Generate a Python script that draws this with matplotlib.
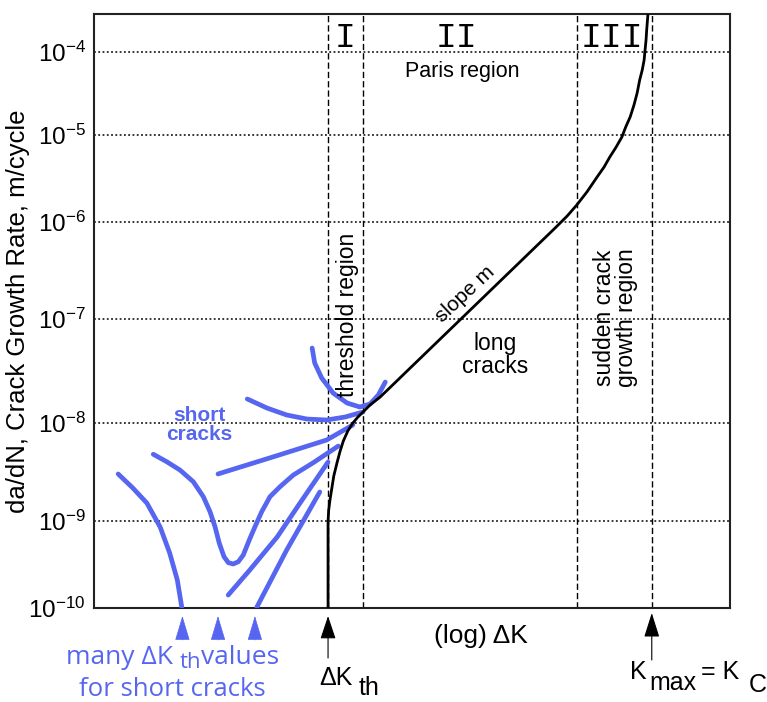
import numpy as np
import matplotlib
matplotlib.use("Agg")
import matplotlib.pyplot as plt

plt.rcParams['font.family'] = ['Liberation Sans', 'DejaVu Sans']
plt.rcParams['mathtext.fontset'] = 'custom'
plt.rcParams['mathtext.rm'] = 'Liberation Sans'
plt.rcParams['mathtext.it'] = 'Liberation Sans'

# ---------------- data (x: log dK in arbitrary units 0..100, y: log10 da/dN) -------------
decades = [-10, -9, -8, -7, -6, -5, -4]
tick_labels = [r'$10^{-10}$', r'$10^{-9}$', r'$10^{-8}$', r'$10^{-7}$',
               r'$10^{-6}$', r'$10^{-5}$', r'$10^{-4}$']

long_x = [36.8, 36.8, 36.8, 36.9, 37.1, 37.4, 37.7, 38.2, 38.7, 39.2, 39.9, 40.7, 41.5,
          42.3, 43.4, 45.0, 72.5, 74.4, 75.9, 77.5, 79.1, 80.2, 81.1, 82.1, 83.0, 83.6,
          84.3, 84.9, 85.4, 85.8, 86.2, 86.5, 86.6, 86.8, 86.9, 87.1]
long_y = [-10.0, -9.218, -9.01, -8.888, -8.786, -8.663, -8.541, -8.408, -8.286, -8.184,
          -8.082, -8.0, -7.942, -7.894, -7.827, -7.75, -6.062, -5.931, -5.805, -5.655,
          -5.483, -5.368, -5.253, -5.138, -5.023, -4.904, -4.783, -4.639, -4.494, -4.337,
          -4.217, -4.096, -4.012, -3.855, -3.735, -3.54]

short_a_x = [3.8, 6.1, 8.3, 10.4, 11.9, 13.1, 13.8]
short_a_y = [-8.52, -8.663, -8.816, -9.069, -9.368, -9.678, -9.99]

short_b_x = [9.32, 11.43, 13.52, 15.61, 17.19, 18.24, 19.03, 19.70, 20.44, 21.12, 21.90,
             22.69, 23.47, 24.42, 25.31, 26.37, 27.67, 29.25, 31.34, 34.48, 38.41]
short_b_y = [-8.319, -8.395, -8.48, -8.599, -8.752, -8.905, -9.066, -9.256, -9.41, -9.479,
             -9.494, -9.468, -9.391, -9.218, -9.066, -8.905, -8.752, -8.65, -8.531,
             -8.405, -8.235]

short_c_x = [21.1, 24.5, 28.8, 32.4, 36.8]
short_c_y = [-9.851, -9.563, -9.184, -8.816, -8.398]

short_d_x = [25.6, 30.3, 35.5]
short_d_y = [-9.99, -9.333, -8.704]

short_e_x = [19.5, 28.1, 36.6, 40.7]
short_e_y = [-8.52, -8.347, -8.173, -8.02]

short_f_x = [24.1, 27.2, 30.3, 33.5, 36.6, 39.5, 42.3]
short_f_y = [-7.769, -7.856, -7.923, -7.962, -7.971, -7.942, -7.894]

short_g_x = [34.3, 34.7, 35.8, 37.6, 39.8, 41.8, 43.4, 44.7, 45.8]
short_g_y = [-7.279, -7.423, -7.567, -7.712, -7.808, -7.846, -7.817, -7.731, -7.606]

region_bounds = [36.8, 42.3, 75.9, 87.7]     # dashed vertical lines
dk_th_x = 36.8
kc_x = 87.7
short_th_x = [13.9, 19.5, 25.3]

# ---------------- y scale (hand-drawn decade spacing) ----------------
L_knots = np.array([-12, -11, -10, -9, -8, -7, -6, -5, -4, -3, -2], float)
P_knots = np.array([-174, -87, 0, 87, 185, 289, 386, 473, 556, 639, 722], float)

def fwd(y):
    y = np.asarray(y, float)
    with np.errstate(divide='ignore', invalid='ignore'):
        ly = np.log10(np.where(y > 0, y, 1e-300))
    return np.interp(ly, L_knots, P_knots)

def inv(p):
    return 10 ** np.interp(np.asarray(p, float), P_knots, L_knots)

BLUE = '#5766f0'
W, H = 767, 702
fig = plt.figure(figsize=(W / 100, H / 100), dpi=100)
ax = fig.add_axes([94 / W, 1 - 608 / H, (730 - 94) / W, (608 - 14) / H])
ax.set_yscale('function', functions=(fwd, inv))
ax.set_xlim(0, 100)
ax.set_ylim(1e-10, 10 ** -3.542)

ax.set_yticks([10.0 ** d for d in decades])
ax.set_yticklabels(tick_labels)
ax.set_xticks([])
ax.minorticks_off()
ax.tick_params(axis='y', length=0, pad=6, labelsize=17.5)
for s in ax.spines.values():
    s.set_linewidth(1.5)
    s.set_color('#222222')

# grid
for d in decades[1:]:
    ax.axhline(10.0 ** d, color='black', lw=1.1, ls=(0, (1.2, 1.6)), zorder=1)
for xb in region_bounds:
    ax.axvline(xb, color='black', lw=1.0, ls=(0, (4.5, 2.2)), zorder=1)

def P(v):
    return 10.0 ** np.asarray(v)

kw = dict(color=BLUE, lw=3.4, solid_capstyle='round', solid_joinstyle='round', zorder=3)
for xs, ys in [(short_a_x, short_a_y), (short_b_x, short_b_y), (short_c_x, short_c_y),
               (short_d_x, short_d_y), (short_e_x, short_e_y), (short_f_x, short_f_y),
               (short_g_x, short_g_y)]:
    ax.plot(xs, P(ys), **kw)

ax.plot(long_x, P(long_y), color='black', lw=2.0, zorder=4, solid_joinstyle='round')

# region labels
ax.text(39.5, 10 ** -3.83, 'I', family='Liberation Mono', fontsize=25, ha='center', va='center')
ax.text(57.0, 10 ** -3.83, 'II', family='Liberation Mono', fontsize=25, ha='center', va='center')
ax.text(81.5, 10 ** -3.83, 'III', family='Liberation Mono', fontsize=25, ha='center', va='center')
ax.text(57.9, 10 ** -4.24, 'Paris region', fontsize=15.5, ha='center', va='center')
ax.text(39.9, 10 ** -6.96, 'threshold region', fontsize=16.5, rotation=90, ha='center', va='center')
ax.text(82.0, 10 ** -6.99, 'sudden crack\ngrowth region', fontsize=16.5, rotation=90,
        ha='center', va='center', linespacing=0.95)
ax.text(58.3, 10 ** -6.74, 'slope m', fontsize=15, rotation=43, ha='center', va='center',
        rotation_mode='anchor')
ax.text(63.0, 10 ** -7.35, 'long\ncracks', fontsize=16.5, ha='center', va='center', linespacing=1.0)
ax.text(16.6, 10 ** -8.02, 'short\ncracks', fontsize=15, fontweight='bold', color=BLUE,
        ha='center', va='center', linespacing=0.95)

ax.set_ylabel('da/dN, Crack Growth Rate, m/cycle', fontsize=18.5)
ax.yaxis.set_label_coords(-0.100, 0.5)

# arrows below the axis
def yfrac(py):
    return (608 - py) / 594.0

def arrow(x, ytop, ybot, color, head_len, head_w, lw):
    ax.annotate('', xy=(x, yfrac(ytop)), xycoords=('data', 'axes fraction'),
                xytext=(x, yfrac(ybot)), textcoords=('data', 'axes fraction'),
                annotation_clip=False,
                arrowprops=dict(arrowstyle=f'-|>,head_length={head_len},head_width={head_w}',
                                color=color, lw=lw, mutation_scale=20, shrinkA=0, shrinkB=0))

arrow(dk_th_x, 616, 658, 'black', 0.72, 0.24, 0.8)
arrow(kc_x, 613, 660, 'black', 0.76, 0.24, 0.8)
for xs in short_th_x:
    arrow(xs, 616, 640, BLUE, 0.8, 0.24, 0.5)

def ftext(px, py, s, **k):
    fig.text(px / W, 1 - py / H, s, **k)

ftext(481, 643, '(log) ΔK', fontsize=19, ha='center', va='baseline')
ftext(319, 685, 'ΔK', fontsize=18, ha='left', va='baseline')
ftext(359, 695, 'th', fontsize=18, ha='left', va='baseline')
ftext(630, 679, 'K', fontsize=18, ha='left', va='baseline')
ftext(649, 690, 'max', fontsize=18, ha='left', va='baseline')
ftext(701, 679, '= K', fontsize=18, ha='left', va='baseline')
ftext(749, 692, 'C', fontsize=18, ha='left', va='baseline')

bf = dict(family=['Open Sans', 'DejaVu Sans'], fontsize=19, color=BLUE, va='baseline')
ftext(66, 664, 'many ΔK', ha='left', **bf)
ftext(180, 668.5, 'th', ha='left', family=['Open Sans', 'DejaVu Sans'], fontsize=16,
      color=BLUE, va='baseline')
ftext(201, 664, 'values', ha='left', **bf)
ftext(172, 695.5, 'for short cracks', ha='center', family=['Open Sans', 'DejaVu Sans'],
      fontsize=18.5, color=BLUE, va='baseline')

fig.savefig('out.png', dpi=100)
